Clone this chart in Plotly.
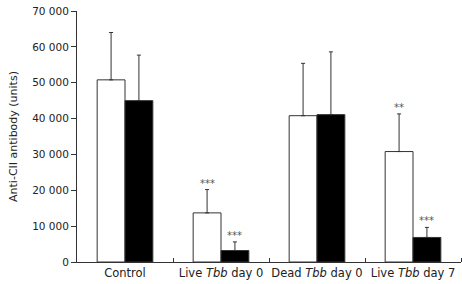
import plotly.graph_objects as go

categories = ["Control", "Live <i>Tbb</i> day 0", "Dead <i>Tbb</i> day 0", "Live <i>Tbb</i> day 7"]
white_vals = [50800, 13700, 40800, 30800]
white_err = [13200, 6500, 14600, 10500]
black_vals = [45000, 3200, 41100, 6850]
black_err = [12700, 2400, 17500, 2800]
white_sig = ["", "***", "", "**"]
black_sig = ["", "***", "", "***"]
y_ticks = [0, 10000, 20000, 30000, 40000, 50000, 60000, 70000]
y_tick_labels = ["0", "10 000", "20 000", "30 000", "40 000", "50 000", "60 000", "70 000"]

xs = list(range(len(categories)))
bw = 0.29
line_col = "#333333"
font_family = "DejaVu Sans, Verdana, sans-serif"

fig = go.Figure()
fig.add_trace(go.Bar(
    x=xs, y=white_vals, width=bw, offset=-bw,
    marker=dict(color="white", line=dict(color=line_col, width=1)),
    error_y=dict(type="data", symmetric=False, array=white_err, arrayminus=[0]*4,
                 color=line_col, thickness=1, width=2),
    showlegend=False,
))
fig.add_trace(go.Bar(
    x=xs, y=black_vals, width=bw, offset=0,
    marker=dict(color="black", line=dict(color=line_col, width=1)),
    error_y=dict(type="data", symmetric=False, array=black_err, arrayminus=[0]*4,
                 color=line_col, thickness=1, width=2),
    showlegend=False,
))

annotations = []
for i in xs:
    for sig, v, e, off in ((white_sig[i], white_vals[i], white_err[i], -bw / 2),
                           (black_sig[i], black_vals[i], black_err[i], bw / 2)):
        if sig:
            annotations.append(dict(x=i + off, y=v + e, text=sig, showarrow=False,
                                    yanchor="bottom", yshift=-1,
                                    font=dict(size=10, color="#555555")))

fig.update_layout(
    width=462, height=284,
    margin=dict(l=77, r=1, t=11, b=22),
    plot_bgcolor="white", paper_bgcolor="white",
    font=dict(family=font_family, size=11, color="#222222"),
    barmode="overlay",
    annotations=annotations,
    xaxis=dict(
        range=[-0.5, 3.5], tickmode="array", tickvals=xs, ticktext=categories,
        ticks="", showline=True, linecolor=line_col, linewidth=1, automargin=False,
        showgrid=False, zeroline=False, fixedrange=True,
        tickfont=dict(size=11.5),
        minor=dict(tickmode="array", tickvals=[0.5, 1.5, 2.5, 3.5], ticks="inside",
                   ticklen=4, tickcolor=line_col, tickwidth=1, showgrid=False),
    ),
    yaxis=dict(
        range=[0, 70000], tickmode="array", tickvals=y_ticks, ticktext=y_tick_labels,
        ticks="outside", ticklen=5, tickcolor=line_col, showline=True, automargin=False,
        linecolor=line_col, linewidth=1, showgrid=False, zeroline=False,
        tickfont=dict(size=10.5),
        title=dict(text="Anti-CII antibody (units)", standoff=12, font=dict(size=11)),
    ),
)

fig.write_html("out.html", config={"displayModeBar": False},
               post_script="document.body.style.margin='0';")
